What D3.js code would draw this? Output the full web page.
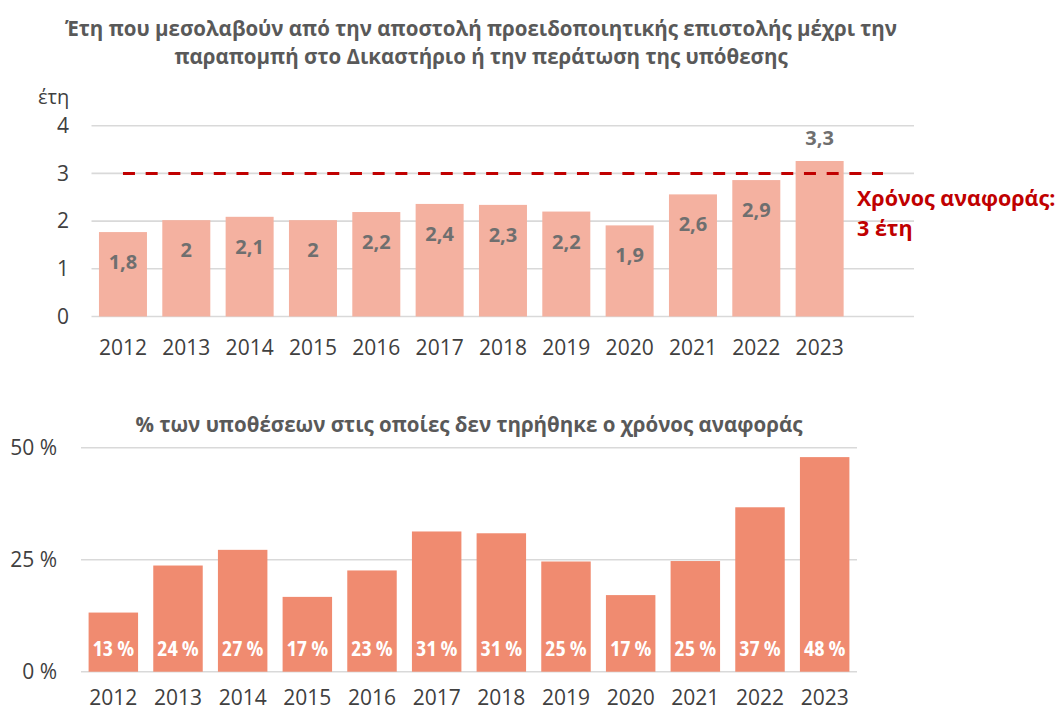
<!DOCTYPE html>
<html>
<head>
<meta charset="utf-8">
<script src="https://cdn.jsdelivr.net/npm/d3@7"></script>
<style>
  body { margin: 0; background: #fff; }
  svg text { font-family: "Open Sans", sans-serif; }
</style>
</head>
<body>
<script>
// chart data
const years = ["2012", "2013", "2014", "2015", "2016", "2017", "2018", "2019", "2020", "2021", "2022", "2023"];
const durationYears = [1.77, 2.02, 2.09, 2.02, 2.19, 2.36, 2.34, 2.2, 1.91, 2.56, 2.86, 3.26];
const referenceYears = 3;
const durationTicks = [0, 1, 2, 3, 4];
const exceededShare = [13.2, 23.7, 27.2, 16.7, 22.6, 31.3, 30.9, 24.6, 17.1, 24.7, 36.7, 47.9];
const shareTicks = [0, 25, 50];

const topTitle = ["Έτη που μεσολαβούν από την αποστολή προειδοποιητικής επιστολής μέχρι την",
                  "παραπομπή στο Δικαστήριο ή την περάτωση της υπόθεσης"];
const topUnit = "έτη";
const refNote = ["Χρόνος αναφοράς:", "3 έτη"];
const bottomTitle = "% των υποθέσεων στις οποίες δεν τηρήθηκε ο χρόνος αναφοράς";

const W = 1062, H = 711;
const grey = "#404040", titleGrey = "#595959", labelGrey = "#6f6f6f", red = "#c00000", gridCol = "#d9d9d9";

const svg = d3.select("body").append("svg")
  .attr("width", W).attr("height", H);

// number label: one decimal, comma, no trailing ",0"
const fmtYears = v => d3.format(".1f")(v).replace(/\.0$/, "").replace(".", ",");

// ---------- top chart ----------
const x1 = d3.scaleBand().domain(years).range([91.3, 851.3]).paddingInner(0.242).paddingOuter(0.121);
const y1 = d3.scaleLinear().domain([0, 4]).range([316.5, 125.7]);

const g1 = svg.append("g");

g1.selectAll("line.grid").data(durationTicks).enter().append("line")
  .attr("x1", 91.5).attr("x2", 914)
  .attr("y1", d => y1(d)).attr("y2", d => y1(d))
  .attr("stroke", gridCol).attr("stroke-width", 1.6);

g1.selectAll("rect").data(durationYears).enter().append("rect")
  .attr("x", (d, i) => x1(years[i]))
  .attr("width", x1.bandwidth())
  .attr("y", d => y1(d))
  .attr("height", d => y1(0) - y1(d))
  .attr("fill", "#f4b1a0");

// reference line
g1.append("line")
  .attr("x1", x1(years[0]) + x1.bandwidth() / 2)
  .attr("x2", x1(years[years.length - 1]) + x1.bandwidth() / 2 + x1.step())
  .attr("y1", y1(referenceYears)).attr("y2", y1(referenceYears))
  .attr("stroke", red).attr("stroke-width", 3)
  .attr("stroke-dasharray", "12,10.7");

g1.selectAll("text.val").data(durationYears).enter().append("text")
  .attr("class", "val")
  .attr("x", (d, i) => x1(years[i]) + x1.bandwidth() / 2)
  .attr("y", d => d > referenceYears ? y1(d) - 23 : y1(d) + 30)
  .attr("dy", "0.35em")
  .attr("text-anchor", "middle")
  .attr("font-size", 20).attr("font-weight", 700)
  .attr("fill", labelGrey)
  .text(fmtYears);

const ax1 = g1.append("g").attr("transform", "translate(69,0)")
  .call(d3.axisLeft(y1).tickValues(durationTicks).tickFormat(d3.format("d")).tickSize(0).tickPadding(0));
const bx1 = g1.append("g").attr("transform", `translate(0,${y1(0)})`)
  .call(d3.axisBottom(x1).tickSize(0).tickPadding(24));
[ax1, bx1].forEach(a => {
  a.select(".domain").remove();
  a.attr("font-family", null).attr("font-size", null);
  a.selectAll("text").attr("font-size", 21).attr("fill", grey);
});

g1.append("text").attr("x", 38).attr("y", 104)
  .attr("font-size", 20).attr("fill", grey).text(topUnit);

g1.selectAll("text.title").data(topTitle).enter().append("text")
  .attr("class", "title")
  .attr("x", 481).attr("y", (d, i) => 36 + i * 28)
  .attr("text-anchor", "middle")
  .attr("font-size", 20.5).attr("font-weight", 700).attr("fill", titleGrey)
  .text(d => d);

g1.selectAll("text.note").data(refNote).enter().append("text")
  .attr("class", "note")
  .attr("x", 857).attr("y", (d, i) => 206 + i * 30)
  .attr("font-size", 21.5).attr("font-weight", 700).attr("fill", red)
  .text(d => d);

// ---------- bottom chart ----------
const x2 = d3.scaleBand().domain(years).range([81, 857]).paddingInner(0.235).paddingOuter(0.1175);
const y2 = d3.scaleLinear().domain([0, 50]).range([671.7, 447.7]);

const g2 = svg.append("g");

g2.selectAll("line.grid").data(shareTicks).enter().append("line")
  .attr("x1", 81).attr("x2", 857)
  .attr("y1", d => y2(d)).attr("y2", d => y2(d))
  .attr("stroke", gridCol).attr("stroke-width", 1.6);

g2.selectAll("rect").data(exceededShare).enter().append("rect")
  .attr("x", (d, i) => x2(years[i]))
  .attr("width", x2.bandwidth())
  .attr("y", d => y2(d))
  .attr("height", d => y2(0) - y2(d))
  .attr("fill", "#f08b70");

g2.selectAll("text.val").data(exceededShare).enter().append("text")
  .attr("class", "val")
  .attr("x", (d, i) => x2(years[i]) + x2.bandwidth() / 2)
  .attr("y", y2(0) - 23.5)
  .attr("dy", "0.35em")
  .attr("text-anchor", "middle")
  .attr("font-size", 22).attr("font-weight", 700)
  .style("font-stretch", "75%")
  .attr("fill", "#fff")
  .text(d => Math.round(d) + " %");

const ax2 = g2.append("g").attr("transform", "translate(57,0)")
  .call(d3.axisLeft(y2).tickValues(shareTicks).tickSize(0).tickPadding(0).tickFormat(d => d + " %"));
const bx2 = g2.append("g").attr("transform", `translate(0,${y2(0)})`)
  .call(d3.axisBottom(x2).tickSize(0).tickPadding(18));
[ax2, bx2].forEach(a => {
  a.select(".domain").remove();
  a.attr("font-family", null).attr("font-size", null);
  a.selectAll("text").attr("font-size", 21).attr("fill", grey);
});

g2.append("text").attr("x", 469).attr("y", 432)
  .attr("text-anchor", "middle")
  .attr("font-size", 20.5).attr("font-weight", 700).attr("fill", titleGrey)
  .text(bottomTitle);
</script>
</body>
</html>
